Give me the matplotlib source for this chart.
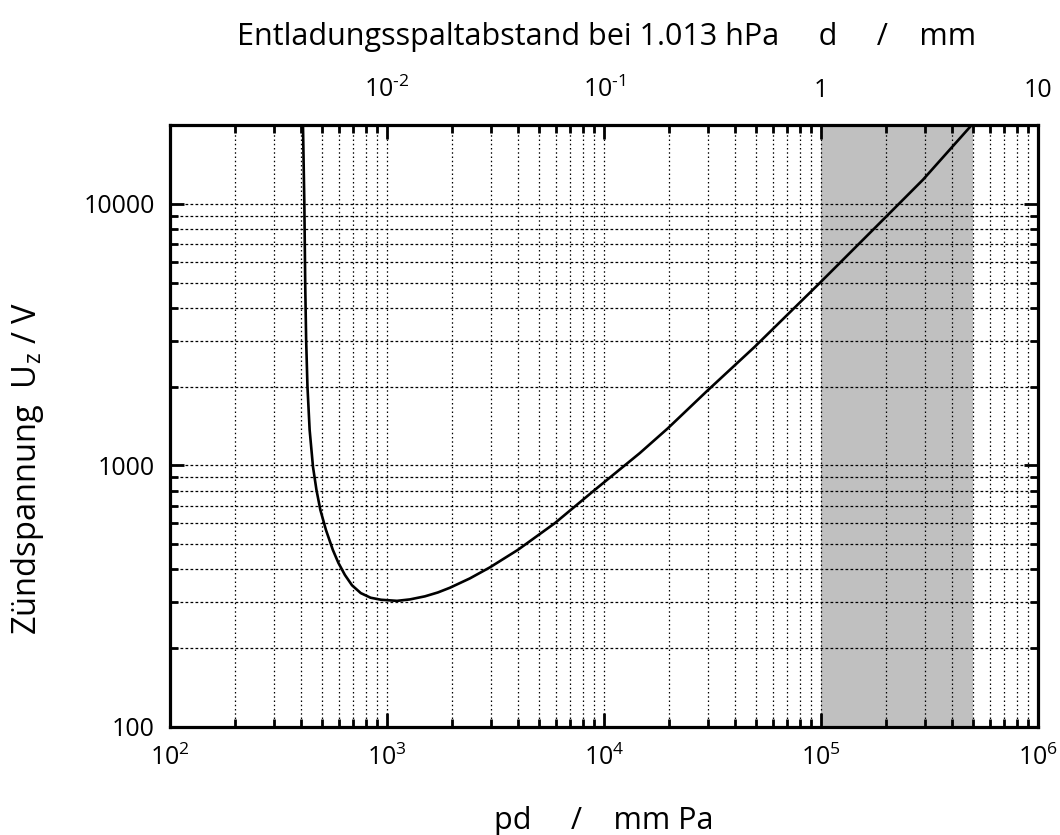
import matplotlib
matplotlib.use("Agg")
import matplotlib.pyplot as plt
from matplotlib.ticker import LogLocator, NullFormatter

# ---- data ----
pd_vals = [410, 416, 420, 424, 430, 440, 456, 473, 493, 523, 563, 597, 640, 690,
           757, 840, 938, 1112, 1275, 1495, 1716, 1949, 2409, 2978, 4008, 5934,
           9070, 14620, 19730, 29650, 49500, 98600, 200100, 294900, 495000]
uz_vals = [20000, 10000, 4830, 3020, 2000, 1367, 987, 806, 676, 567, 475, 424, 381, 348,
           325, 312, 306.5, 303.5, 307.4, 315.8, 326.8, 340.6, 369.8, 407.4, 475.3, 601.2,
           806, 1114, 1388, 1915, 2840, 4975, 8944, 12350, 20000]

x_ticks = [1e2, 1e3, 1e4, 1e5, 1e6]
x_ticklabels = [r"$10^{2}$", r"$10^{3}$", r"$10^{4}$", r"$10^{5}$", r"$10^{6}$"]
y_ticks = [100, 1000, 10000]
y_ticklabels = ["100", "1000", "10000"]
top_ticks = [1e-2, 1e-1, 1, 10]
top_ticklabels = [r"$10^{\text{-}2}$", r"$10^{\text{-}1}$", "1", "10"]
shade_range = (1e5, 5e5)

plt.rcParams['font.family'] = ['Open Sans', 'DejaVu Sans']
plt.rcParams['mathtext.fontset'] = 'custom'
plt.rcParams['mathtext.rm'] = 'Open Sans'
plt.rcParams['mathtext.it'] = 'Open Sans'

W, H = 1060, 835
fig = plt.figure(figsize=(W / 100, H / 100), dpi=100)
ax = fig.add_axes([170 / W, 1 - 727 / H, (1038 - 170) / W, (727 - 125) / H])
ax.set_xscale('log')
ax.set_yscale('log')
ax.set_xlim(1e2, 1e6)
ax.set_ylim(100, 20000)

ax.axvspan(*shade_range, color='#c0c0c0', lw=0, zorder=0)

ax.xaxis.set_minor_locator(LogLocator(base=10, subs=range(2, 10), numticks=50))
ax.yaxis.set_minor_locator(LogLocator(base=10, subs=range(2, 10), numticks=50))
ax.xaxis.set_minor_formatter(NullFormatter())
ax.yaxis.set_minor_formatter(NullFormatter())

ax.grid(True, which='both', axis='x', color='black', lw=0.9, linestyle=(0, (1.2, 2.2)), zorder=1)
ax.grid(True, which='both', axis='y', color='black', lw=0.9, linestyle=(0, (2.2, 1.8)), zorder=1)
ax.set_axisbelow(True)

ax.plot(pd_vals, uz_vals, color='black', lw=1.9, zorder=3,
        solid_joinstyle='round', solid_capstyle='round')

ax.set_xticks(x_ticks)
ax.set_xticklabels(x_ticklabels)
ax.set_yticks(y_ticks)
ax.set_yticklabels(y_ticklabels)

ax.tick_params(which='both', direction='in', top=True, right=True, width=2.0, labelsize=18)
ax.tick_params(which='major', length=10)
ax.tick_params(which='minor', length=6)
ax.tick_params(axis='x', which='major', pad=13)
ax.tick_params(axis='y', which='major', pad=11)
for s in ax.spines.values():
    s.set_linewidth(2.3)

sec = ax.secondary_xaxis('top', functions=(lambda x: x / 1e5, lambda d: d * 1e5))
sec.set_xticks(top_ticks)
sec.set_xticklabels(top_ticklabels)
sec.xaxis.set_minor_locator(plt.NullLocator())
sec.tick_params(length=0, labelsize=18, pad=16)
sec.spines['top'].set_visible(False)

fig.text(607 / W, 1 - 45 / H, "Entladungsspaltabstand bei 1.013 hPa     d     /    mm",
         fontsize=22, ha='center', va='baseline')
fig.text(604 / W, 1 - 829 / H, "pd     /    mm Pa", fontsize=22, ha='center', va='baseline')
fig.text(28 / W, 1 - 468 / H, r"Zündspannung  U$_\mathregular{z}$ / V", fontsize=23.5,
         ha='center', va='center', rotation=90)

fig.savefig("out.png", dpi=100)
